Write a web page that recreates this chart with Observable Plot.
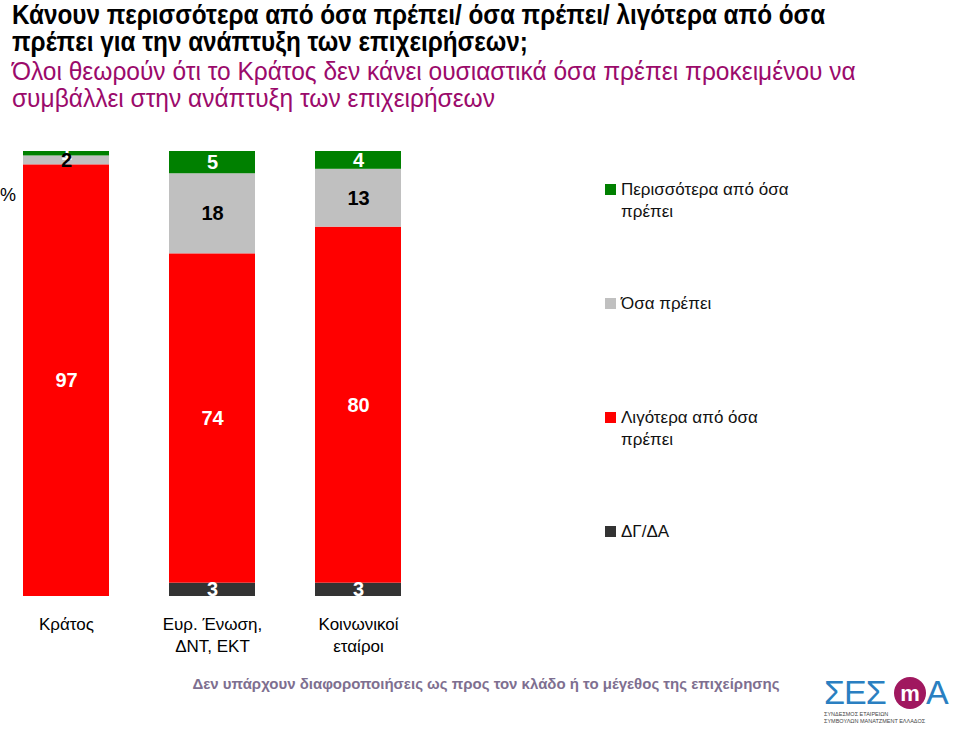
<!DOCTYPE html>
<html>
<head>
<meta charset="utf-8">
<script src="https://cdn.jsdelivr.net/npm/d3@7"></script>
<script src="https://cdn.jsdelivr.net/npm/@observablehq/plot@0.6"></script>
<style>
  body { margin: 0; background: #fff; font-family: "Liberation Sans", Arial, sans-serif; }
  #page { position: relative; width: 960px; height: 730px; overflow: hidden; }
  .abs { position: absolute; white-space: nowrap; }
  #title { left: 12px; top: 2px; font-size: 27px; line-height: 27px; color: #000; font-weight: bold; transform: scaleX(0.9); transform-origin: 0 0; }
  #subtitle { left: 12px; top: 58px; font-size: 25px; line-height: 27px; color: #9b0a6b; transform: scaleX(0.98); transform-origin: 0 0; }
  #chart { left: 0; top: 140px; }
  #pct { left: 0px; top: 185px; font-size: 18px; color: #000; }
  .leg { left: 605px; font-size: 17px; line-height: 22px; color: #111; }
  .sw { position: absolute; left: 0; top: 5px; width: 11px; height: 11px; }
  .leg span.t { display: block; margin-left: 16px; }
  #foot { left: 0; width: 972px; text-align: center; top: 675px; font-size: 15px; color: #7e6f90; font-weight: bold; }
  #logo { left: 822px; top: 668px; }
</style>
</head>
<body>
<div id="page">
  <div id="title" class="abs">Κάνουν περισσότερα από όσα πρέπει/ όσα πρέπει/ λιγότερα από όσα<br>πρέπει για την ανάπτυξη των επιχειρήσεων;</div>
  <div id="subtitle" class="abs">Όλοι θεωρούν ότι το Κράτος δεν κάνει ουσιαστικά όσα πρέπει προκειμένου να<br>συμβάλλει στην ανάπτυξη των επιχειρήσεων</div>
  <div id="chart" class="abs"></div>
  <div id="pct" class="abs">%</div>
  <div id="legend"></div>
  <div id="foot" class="abs">Δεν υπάρχουν διαφοροποιήσεις ως προς τον κλάδο ή το μέγεθος της επιχείρησης</div>
  <div id="logo" class="abs">
    <svg width="135" height="60">
      <text x="2" y="36" font-family="Liberation Sans" font-size="34" fill="#2a7fc1" letter-spacing="-1">ΣΕΣ</text>
      <circle cx="88" cy="25" r="16" fill="#a0185f"/>
      <text x="88" y="33" text-anchor="middle" font-family="Liberation Sans" font-size="22" font-weight="bold" fill="#fff">m</text>
      <text x="104" y="36" font-family="Liberation Sans" font-size="34" fill="#2a7fc1">Α</text>
      <text x="2" y="48" font-family="Liberation Sans" font-size="5.5" fill="#444">ΣΥΝΔΕΣΜΟΣ ΕΤΑΙΡΕΙΩΝ</text>
      <text x="2" y="55" font-family="Liberation Sans" font-size="5.5" fill="#444">ΣΥΜΒΟΥΛΩΝ ΜΑΝΑΤΖΜΕΝΤ ΕΛΛΑΔΟΣ</text>
    </svg>
  </div>
</div>
<script>
// ---- data ----
const categories = ["Κράτος", "Ευρ. Ένωση,\nΔΝΤ, ΕΚΤ", "Κοινωνικοί\nεταίροι"];
const seriesNames = ["ΔΓ/ΔΑ", "Λιγότερα από όσα πρέπει", "Όσα πρέπει", "Περισσότερα από όσα πρέπει"]; // bottom -> top
const seriesColors = ["#333333", "#ff0000", "#c0c0c0", "#008000"];
const labelColors = ["#ffffff", "#ffffff", "#000000", "#ffffff"];
const dkna = [0, 3, 3];
const less = [97, 74, 80];
const enough = [2, 18, 13];
const more = [1, 5, 4];
const seriesValues = [dkna, less, enough, more];

// build stacked rows
const rows = [];
categories.forEach((c, ci) => {
  let acc = 0;
  seriesNames.forEach((s, si) => {
    const v = seriesValues[si][ci];
    rows.push({cat: c, series: s, value: v, y1: acc, y2: acc + v, mid: acc + v / 2, lc: labelColors[si]});
    acc += v;
  });
});
const labelRows = rows.filter(d => d.value > 0);
const blackLabels = labelRows.filter(d => d.lc === "#000000");
const whiteLabels = labelRows.filter(d => d.lc === "#ffffff");

const chart = Plot.plot({
  width: 440,
  height: 520,
  marginLeft: 22,
  marginRight: 38.5,
  marginTop: 11,
  marginBottom: 64,
  style: {fontFamily: "Liberation Sans, Arial, sans-serif", background: "transparent"},
  x: {domain: categories, paddingInner: 0.41, paddingOuter: 0, label: null},
  y: {domain: [0, 100], axis: null},
  color: {domain: seriesNames, range: seriesColors},
  marks: [
    Plot.barY(rows.filter(d => d.value > 0), {x: "cat", y1: "y1", y2: "y2", fill: "series"}),
    Plot.text(whiteLabels, {x: "cat", y: "mid", text: d => String(d.value), fill: "#ffffff", fontSize: 20, fontWeight: "bold"}),
    Plot.text(blackLabels, {x: "cat", y: "mid", text: d => String(d.value), fill: "#000000", fontSize: 20, fontWeight: "bold"}),
    Plot.axisX({tickSize: 0, tickPadding: 18, fontSize: 17, lineHeight: 1.3, lineAnchor: "top", fill: "#000"})
  ]
});
document.getElementById("chart").appendChild(chart);

// legend (top -> bottom order)
const legend = document.getElementById("legend");
const legItems = [
  {name: "Περισσότερα από όσα<br>πρέπει", color: "#008000", top: 179},
  {name: "Όσα πρέπει", color: "#c0c0c0", top: 293},
  {name: "Λιγότερα από όσα<br>πρέπει", color: "#ff0000", top: 407},
  {name: "ΔΓ/ΔΑ", color: "#333333", top: 521}
];
legItems.forEach(it => {
  const d = document.createElement("div");
  d.className = "abs leg";
  d.style.top = it.top + "px";
  d.innerHTML = `<div class="sw" style="background:${it.color}"></div><span class="t">${it.name}</span>`;
  legend.appendChild(d);
});
</script>
</body>
</html>
